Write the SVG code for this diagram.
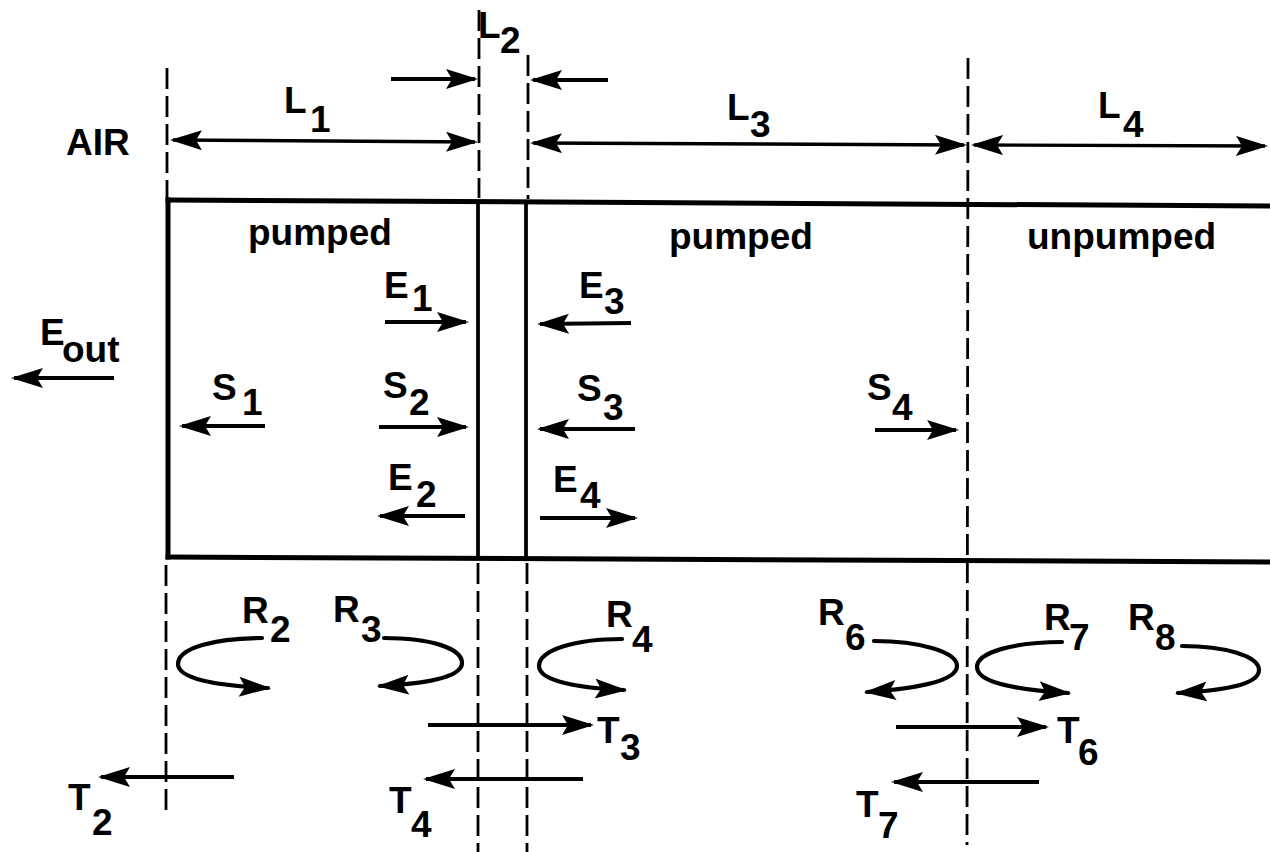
<svg xmlns="http://www.w3.org/2000/svg" width="1270" height="852" viewBox="0 0 1270 852">
<style>
text{font-family:"Liberation Sans",Arial,sans-serif;font-size:37px;font-weight:bold;fill:#000}
.dash{stroke:#000;stroke-width:2.8;stroke-dasharray:21 7;fill:none}
.box{stroke:#000;stroke-width:5;fill:none;stroke-linecap:square}
.wall{stroke:#000;stroke-width:3.8;fill:none}
.arr{stroke:#000;stroke-width:3.8;fill:none;marker-end:url(#ah)}
.dbl{stroke:#000;stroke-width:3.4;fill:none;marker-end:url(#ah);marker-start:url(#ahs)}
.curve{stroke:#000;stroke-width:4.2;fill:none;marker-end:url(#ah);stroke-linecap:round}
</style>
<defs>
<marker id="ah" markerUnits="userSpaceOnUse" markerWidth="36" markerHeight="22" refX="29" refY="10" orient="auto">
<path d="M0,0 L32,10 L0,20 L6,10 Z" fill="#000"/>
</marker>
<marker id="ahs" markerUnits="userSpaceOnUse" markerWidth="36" markerHeight="22" refX="29" refY="10" orient="auto-start-reverse">
<path d="M0,0 L32,10 L0,20 L6,10 Z" fill="#000"/>
</marker>
</defs>
<rect width="1270" height="852" fill="#fff"/>

<g id="frame">
<line class="box" x1="168" y1="200" x2="1270" y2="206"/>
<line class="box" x1="168" y1="557" x2="1270" y2="562"/>
<line class="box" x1="168" y1="200" x2="168" y2="557"/>
<line class="wall" x1="478" y1="201" x2="478" y2="559"/>
<line class="wall" x1="526" y1="202" x2="526" y2="559"/>
</g>

<g id="guides">
<line class="dash" x1="167" y1="68" x2="167" y2="198"/>
<line class="dash" x1="166" y1="565" x2="166" y2="817"/>
<line class="dash" x1="479" y1="10" x2="479" y2="198"/>
<line class="dash" x1="478" y1="563" x2="478" y2="852"/>
<line class="dash" x1="528" y1="55" x2="528" y2="199"/>
<line class="dash" x1="527" y1="563" x2="527" y2="852"/>
<line class="dash" x1="968" y1="58" x2="967" y2="845"/>
</g>

<g id="connectors">
<line class="arr" x1="391" y1="79" x2="475" y2="79"/>
<line class="arr" x1="608" y1="80" x2="533" y2="80"/>
<line class="dbl" x1="173" y1="140" x2="475" y2="142"/>
<line class="dbl" x1="533" y1="143" x2="964" y2="145"/>
<line class="dbl" x1="974" y1="145" x2="1265" y2="146"/>
<line class="arr" x1="385" y1="322" x2="466" y2="322"/>
<line class="arr" x1="631" y1="323" x2="540" y2="324"/>
<line class="arr" x1="114" y1="378" x2="14" y2="378"/>
<line class="arr" x1="265" y1="426" x2="182" y2="426"/>
<line class="arr" x1="379" y1="427" x2="466" y2="427"/>
<line class="arr" x1="635" y1="429" x2="540" y2="429"/>
<line class="arr" x1="875" y1="430" x2="956" y2="430"/>
<line class="arr" x1="465" y1="516" x2="380" y2="516"/>
<line class="arr" x1="540" y1="518" x2="635" y2="518"/>
<line class="arr" x1="428" y1="725" x2="591" y2="725"/>
<line class="arr" x1="234" y1="777" x2="101" y2="777"/>
<line class="arr" x1="583" y1="779" x2="426" y2="779"/>
<line class="arr" x1="896" y1="727" x2="1046" y2="727"/>
<line class="arr" x1="1039" y1="782" x2="894" y2="782"/>
<path class="curve" d="M262,638 C215,638 178,648 178,664 C178,680 222,686 268,688"/>
<path class="curve" d="M384,638 C430,638 462,648 462,663 C462,678 422,684 380,686"/>
<path class="curve" d="M622,639 C575,639 539,650 539,666 C539,682 582,688 624,690"/>
<path class="curve" d="M874,641 C920,641 957,652 957,666 C957,682 912,689 867,692"/>
<path class="curve" d="M1062,642 C1015,642 977,652 977,667 C977,684 1022,690 1068,693"/>
<path class="curve" d="M1182,646 C1225,646 1259,656 1259,670 C1259,686 1216,691 1178,693"/>
</g>

<g id="labels">
<g id="lbl-air"><text x="66" y="155">AIR</text></g>
<g id="lbl-L1"><text x="284" y="113">L</text><text x="310" y="132">1</text></g>
<g id="lbl-L2"><text x="478" y="38">L</text><text x="500" y="53">2</text></g>
<g id="lbl-L3"><text x="727" y="120">L</text><text x="750" y="137">3</text></g>
<g id="lbl-L4"><text x="1098" y="118">L</text><text x="1123" y="137">4</text></g>
<g id="lbl-pumped1"><text x="248" y="245">pumped</text></g>
<g id="lbl-pumped2"><text x="669" y="249">pumped</text></g>
<g id="lbl-unpumped"><text x="1027" y="249">unpumped</text></g>
<g id="lbl-E1"><text x="384" y="298">E</text><text x="412" y="311">1</text></g>
<g id="lbl-E3"><text x="579" y="298">E</text><text x="604" y="314">3</text></g>
<g id="lbl-Eout"><text x="40" y="345">E</text><text x="62" y="362">out</text></g>
<g id="lbl-S1"><text x="212" y="400">S</text><text x="242" y="415">1</text></g>
<g id="lbl-S2"><text x="383" y="398">S</text><text x="409" y="415">2</text></g>
<g id="lbl-S3"><text x="577" y="401">S</text><text x="603" y="420">3</text></g>
<g id="lbl-S4"><text x="867" y="400">S</text><text x="892" y="420">4</text></g>
<g id="lbl-E2"><text x="388" y="490">E</text><text x="416" y="507">2</text></g>
<g id="lbl-E4"><text x="553" y="492">E</text><text x="580" y="508">4</text></g>
<g id="lbl-R2"><text x="242" y="623">R</text><text x="270" y="642">2</text></g>
<g id="lbl-R3"><text x="333" y="622">R</text><text x="361" y="642">3</text></g>
<g id="lbl-R4"><text x="606" y="627">R</text><text x="632" y="652">4</text></g>
<g id="lbl-R6"><text x="818" y="625">R</text><text x="845" y="650">6</text></g>
<g id="lbl-R7"><text x="1044" y="630">R</text><text x="1069" y="650">7</text></g>
<g id="lbl-R8"><text x="1128" y="630">R</text><text x="1155" y="650">8</text></g>
<g id="lbl-T3"><text x="597" y="743">T</text><text x="620" y="760">3</text></g>
<g id="lbl-T6"><text x="1057" y="743">T</text><text x="1078" y="765">6</text></g>
<g id="lbl-T2"><text x="68" y="810">T</text><text x="92" y="835">2</text></g>
<g id="lbl-T4"><text x="389" y="813">T</text><text x="411" y="837">4</text></g>
<g id="lbl-T7"><text x="856" y="817">T</text><text x="878" y="838">7</text></g>
</g>
</svg>
